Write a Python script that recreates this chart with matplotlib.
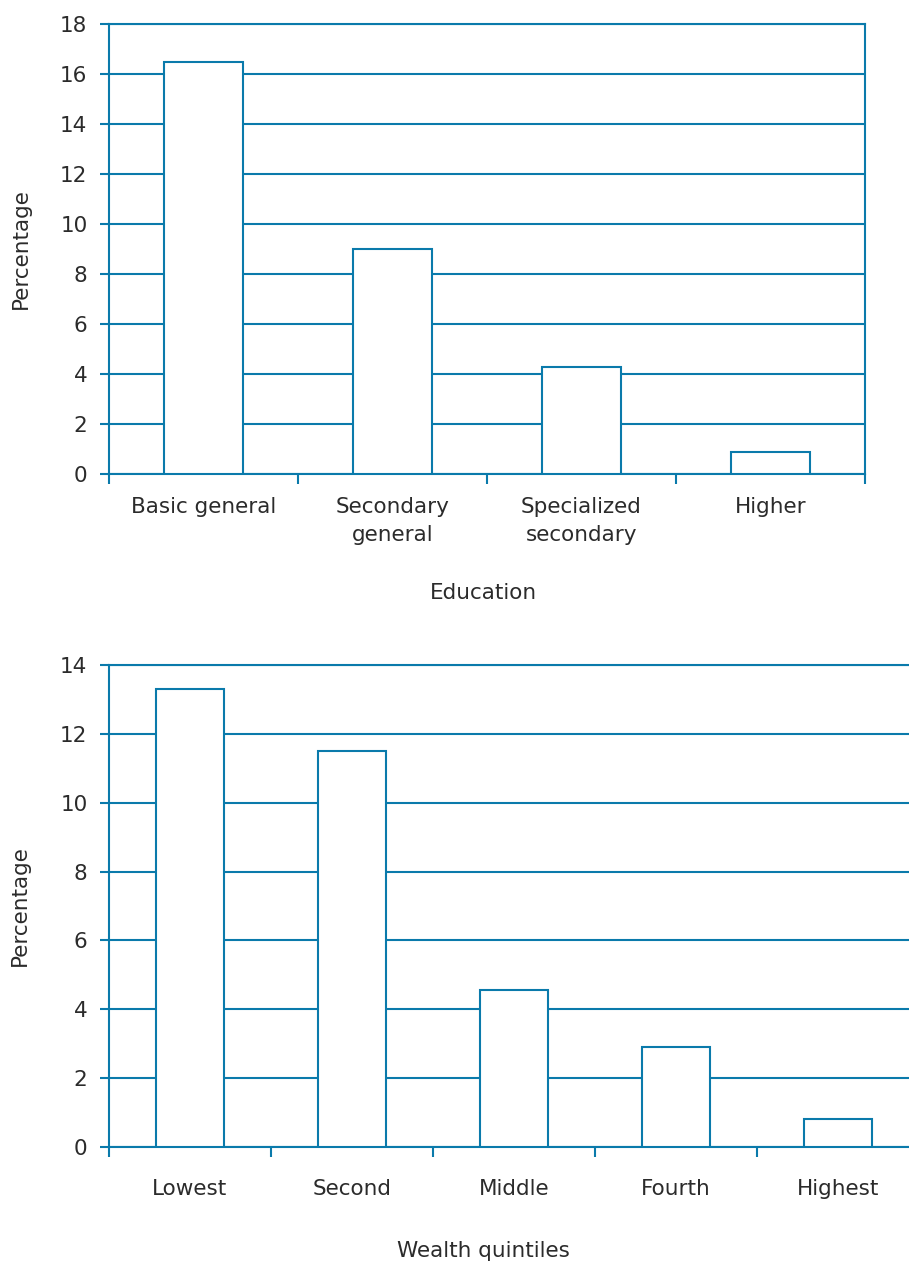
import numpy as np
import matplotlib.pyplot as plt
from matplotlib.ticker import FixedLocator

# Datos
educacion = ["Basic general", "Secondary\ngeneral", "Specialized\nsecondary", "Higher"]
pct_educacion = [16.5, 9.0, 4.3, 0.9]

quintiles = ["Lowest", "Second", "Middle", "Fourth", "Highest"]
pct_quintiles = [13.3, 11.5, 4.55, 2.9, 0.8]

azul = '#0a7aab'
texto = '#2b2b2b'
fs = 15.5

plt.rcParams['font.family'] = ['DejaVu Sans']

W, H = 909, 1261
fig = plt.figure(figsize=(W / 100, H / 100), dpi=100)


def ejes(izq, der, arriba, abajo):
    return fig.add_axes([izq / W, 1 - abajo / H, (der - izq) / W, (abajo - arriba) / H])


def dibujar(ax, categorias, valores, ymax, paso, pad_x):
    n = len(categorias)
    x = np.arange(n)
    ax.bar(x, valores, width=0.42, color='white', edgecolor=azul, linewidth=1.5, zorder=3)
    ax.set_xlim(-0.5, n - 0.5)
    ax.set_ylim(0, ymax)
    ax.set_yticks(np.arange(0, ymax + 1, paso))
    ax.set_xticks(x)
    ax.set_xticklabels(categorias, linespacing=1.5)
    ax.xaxis.set_minor_locator(FixedLocator(np.arange(-0.5, n, 1.0)))
    ax.tick_params(axis='x', which='major', length=0, pad=pad_x, labelsize=fs, labelcolor=texto)
    ax.tick_params(axis='x', which='minor', length=7.5, width=1.5, color=azul, direction='out')
    ax.tick_params(axis='y', length=6.5, width=1.5, color=azul, pad=9, labelsize=fs, labelcolor=texto)
    ax.grid(axis='y', color=azul, linewidth=1.5, zorder=1)
    ax.set_axisbelow(True)
    for lado in ['left', 'bottom', 'top', 'right']:
        ax.spines[lado].set_color(azul)
        ax.spines[lado].set_linewidth(1.5)
    ax.set_ylabel("Percentage", fontsize=fs, color=texto)


# Grafico superior: educacion
ax1 = ejes(109, 865, 24, 474)
dibujar(ax1, educacion, pct_educacion, 18, 2, 16.5)
ax1.set_xlabel("Education", fontsize=fs, color=texto)
ax1.xaxis.set_label_coords(0.495, -0.242)
ax1.yaxis.set_label_coords(-0.104, 0.5)

# Grafico inferior: quintiles de riqueza
ax2 = ejes(109, 919, 665, 1147)
dibujar(ax2, quintiles, pct_quintiles, 14, 2, 23)
ax2.spines['right'].set_visible(False)
ax2.set_xlabel("Wealth quintiles", fontsize=fs, color=texto)
ax2.xaxis.set_label_coords(0.462, -0.195)
ax2.yaxis.set_label_coords(-0.0975, 0.5)

fig.savefig('out.png', dpi=100, facecolor='white')
